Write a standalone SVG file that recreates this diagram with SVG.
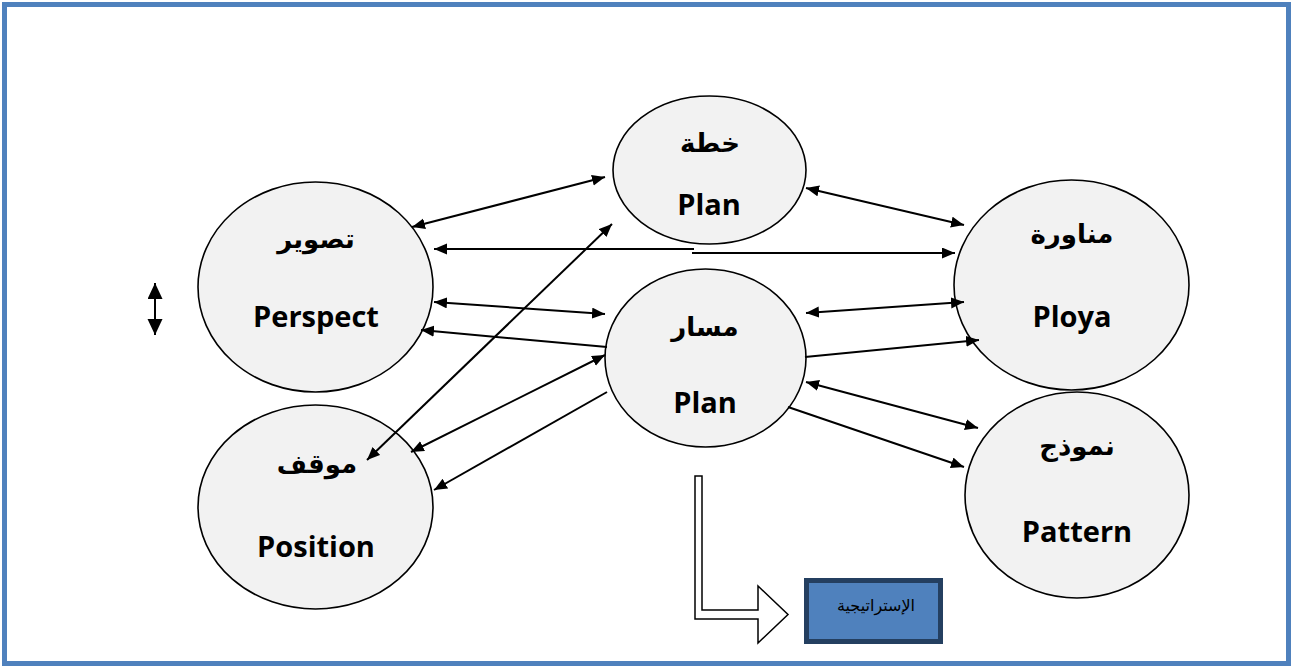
<svg xmlns="http://www.w3.org/2000/svg" width="1293" height="668" viewBox="0 0 1293 668">
<style>
.node{fill:#F2F2F2;stroke:#000;stroke-width:1.6}
.en{font-family:"Open Sans","DejaVu Sans",sans-serif;font-weight:bold;font-size:29px;fill:#000;text-anchor:middle}
.ar{font-family:"DejaVu Sans","Noto Sans",sans-serif;font-weight:bold;font-size:26px;fill:#000;text-anchor:middle}
.ln{stroke:#000;stroke-width:2;fill:none}
</style>
<defs>
<marker id="ah" markerUnits="userSpaceOnUse" markerWidth="14" markerHeight="12" refX="13" refY="5.5" orient="auto-start-reverse">
<path d="M0,0 L13,5.5 L0,11 Z" fill="#000"/>
</marker>
<marker id="ah2" markerUnits="userSpaceOnUse" markerWidth="17" markerHeight="16" refX="16" refY="7.5" orient="auto-start-reverse">
<path d="M0,0 L16,7.5 L0,15 Z" fill="#000"/>
</marker>
</defs>
<rect x="4.5" y="4.5" width="1284" height="659" fill="#fff" stroke="#4F81BD" stroke-width="5"/>

<g id="node-plan-top">
<ellipse class="node" cx="709.5" cy="170" rx="96.5" ry="74"/>
<text class="ar" x="710" y="152" font-size="23">خطة</text>
<text class="en" x="709" y="215" font-size="23">Plan</text>
</g>
<g id="node-perspect">
<ellipse class="node" cx="315.5" cy="287" rx="117.5" ry="105"/>
<text class="ar" x="316" y="248">تصوير</text>
<text class="en" x="316" y="327">Perspect</text>
</g>
<g id="node-position">
<ellipse class="node" cx="315.5" cy="507" rx="117.5" ry="102"/>
<text class="ar" x="317" y="473">موقف</text>
<text class="en" x="316" y="557">Position</text>
</g>
<g id="node-ploya">
<ellipse class="node" cx="1071.5" cy="285" rx="117.5" ry="105"/>
<text class="ar" x="1072" y="243">مناورة</text>
<text class="en" x="1072" y="327">Ploya</text>
</g>
<g id="node-pattern">
<ellipse class="node" cx="1077" cy="495" rx="112" ry="103"/>
<text class="ar" x="1077" y="455">نموذج</text>
<text class="en" x="1077" y="542">Pattern</text>
</g>
<g id="node-masar">
<ellipse class="node" cx="705.5" cy="358" rx="100.5" ry="89"/>
<text class="ar" x="705" y="336">مسار</text>
<text class="en" x="705" y="413">Plan</text>
</g>
<g id="node-strategy">
<rect x="806.5" y="580.5" width="134" height="61" fill="#4F81BD" stroke="#243F60" stroke-width="5"/>
<text x="876" y="611" font-family="'DejaVu Sans',sans-serif" font-size="16" text-anchor="middle" fill="#000">الإستراتيجية</text>
</g>

<g id="connectors">
<line class="ln" x1="412" y1="227" x2="605" y2="177" marker-start="url(#ah)" marker-end="url(#ah)"/>
<line class="ln" x1="806" y1="188" x2="964" y2="225" marker-start="url(#ah)" marker-end="url(#ah)"/>
<line class="ln" x1="434" y1="249" x2="694" y2="249" marker-start="url(#ah)"/>
<line class="ln" x1="692" y1="253" x2="955" y2="253" marker-end="url(#ah)"/>
<line class="ln" x1="434" y1="302" x2="605" y2="314" marker-start="url(#ah)" marker-end="url(#ah)"/>
<line class="ln" x1="607" y1="347" x2="421" y2="330" marker-end="url(#ah)"/>
<line class="ln" x1="367" y1="460" x2="612" y2="224" marker-start="url(#ah)" marker-end="url(#ah)"/>
<line class="ln" x1="411" y1="452" x2="605" y2="355" marker-start="url(#ah)" marker-end="url(#ah)"/>
<line class="ln" x1="607" y1="392" x2="434" y2="490" marker-end="url(#ah)"/>
<line class="ln" x1="806" y1="313" x2="964" y2="302" marker-start="url(#ah)" marker-end="url(#ah)"/>
<line class="ln" x1="805" y1="357" x2="979" y2="340" marker-end="url(#ah)"/>
<line class="ln" x1="806" y1="382" x2="978" y2="428" marker-start="url(#ah)" marker-end="url(#ah)"/>
<line class="ln" x1="788" y1="407" x2="964" y2="467" marker-end="url(#ah)"/>
<line class="ln" x1="155" y1="283" x2="155" y2="335" marker-start="url(#ah2)" marker-end="url(#ah2)"/>
<path d="M695,476 L702,476 L702,610 L758,610 L758,586 L788,614.5 L758,643 L758,619 L695,619 Z" fill="#fff" stroke="#000" stroke-width="1.5"/>
</g>
</svg>
